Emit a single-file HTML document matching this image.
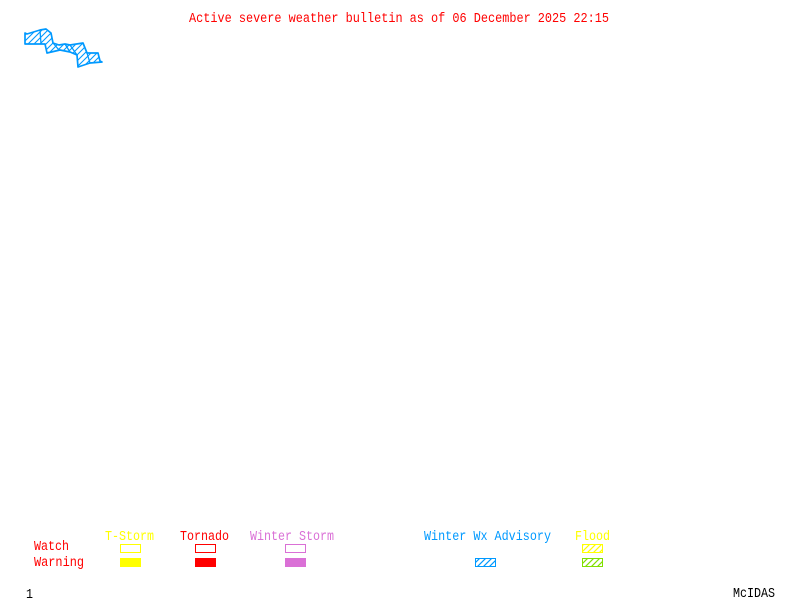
<!DOCTYPE html>
<html><head><meta charset="utf-8"><style>html,body{margin:0;padding:0;background:#fff}svg{display:block}text{font-family:"Liberation Mono",monospace;font-size:13.5px}</style></head>
<body><svg width="800" height="600" viewBox="0 0 800 600" xmlns="http://www.w3.org/2000/svg">
<defs>
<pattern id="hp" width="6" height="6" patternUnits="userSpaceOnUse"><path d="M-1 7L7 -1M-1 1L1 -1M5 7L7 5" stroke="#0099ff" stroke-width="1.1" fill="none"/></pattern>
<pattern id="hb" width="6" height="6" patternUnits="userSpaceOnUse"><path d="M-1 7L7 -1M-1 1L1 -1M5 7L7 5" stroke="#0099ff" stroke-width="1.2" fill="none"/></pattern>
<pattern id="hy" width="6" height="6" patternUnits="userSpaceOnUse"><path d="M-1 7L7 -1M-1 1L1 -1M5 7L7 5" stroke="#ffff00" stroke-width="1.2" fill="none"/></pattern>
<pattern id="hg" width="6" height="6" patternUnits="userSpaceOnUse"><path d="M-1 7L7 -1M-1 1L1 -1M5 7L7 5" stroke="#80e000" stroke-width="1.2" fill="none"/></pattern>
</defs>
<text x="189" y="22" fill="#f00" textLength="420" lengthAdjust="spacingAndGlyphs">Active severe weather bulletin as of 06 December 2025 22:15</text>
<path d="M25 33L27 34L40 30L46 29L51 33L53 43L59 45L65 44L70 45L83 43L87 53L98 53L100 61L102 62L90 63L78 67L77 55L70 52L60 50L47 53L45 44L25 44Z" fill="url(#hp)" stroke="#0099ff" stroke-width="1.7" stroke-linejoin="round"/>
<path d="M40 30L41 44M53 43L59 50M65 44L70 52M70 45L77 55M87 53L90 63" fill="none" stroke="#0099ff" stroke-width="1.3"/>
<g>
<text x="105" y="540" fill="#ffff00" textLength="49" lengthAdjust="spacingAndGlyphs">T-Storm</text>
<text x="180" y="540" fill="#f00" textLength="49" lengthAdjust="spacingAndGlyphs">Tornado</text>
<text x="250" y="540" fill="#da70d6" textLength="84" lengthAdjust="spacingAndGlyphs">Winter Storm</text>
<text x="424" y="540" fill="#0099ff" textLength="127" lengthAdjust="spacingAndGlyphs">Winter Wx Advisory</text>
<text x="575" y="540" fill="#ffff00" textLength="35" lengthAdjust="spacingAndGlyphs">Flood</text>
<text x="34" y="550" fill="#f00" textLength="35" lengthAdjust="spacingAndGlyphs">Watch</text>
<text x="34" y="566" fill="#f00" textLength="50" lengthAdjust="spacingAndGlyphs">Warning</text>
<text x="26" y="598" fill="#000" textLength="7" lengthAdjust="spacingAndGlyphs">1</text>
<text x="733" y="597" fill="#000" textLength="42" lengthAdjust="spacingAndGlyphs">McIDAS</text>
</g>
<g shape-rendering="crispEdges" stroke-width="1">
<rect x="120.5" y="544.5" width="20" height="8" fill="none" stroke="#ffff00"/>
<rect x="120" y="558" width="21" height="9" fill="#ffff00"/>
<rect x="195.5" y="544.5" width="20" height="8" fill="none" stroke="#f00"/>
<rect x="195" y="558" width="21" height="9" fill="#f00"/>
<rect x="285.5" y="544.5" width="20" height="8" fill="none" stroke="#da70d6"/>
<rect x="285" y="558" width="21" height="9" fill="#da70d6"/>
</g>
<g stroke-width="1">
<rect x="475.5" y="558.5" width="20" height="8" fill="url(#hb)" stroke="#0099ff"/>
<rect x="582.5" y="544.5" width="20" height="8" fill="url(#hy)" stroke="#ffff00"/>
<rect x="582.5" y="558.5" width="20" height="8" fill="url(#hg)" stroke="#80e000"/>
</g>
</svg></body></html>
